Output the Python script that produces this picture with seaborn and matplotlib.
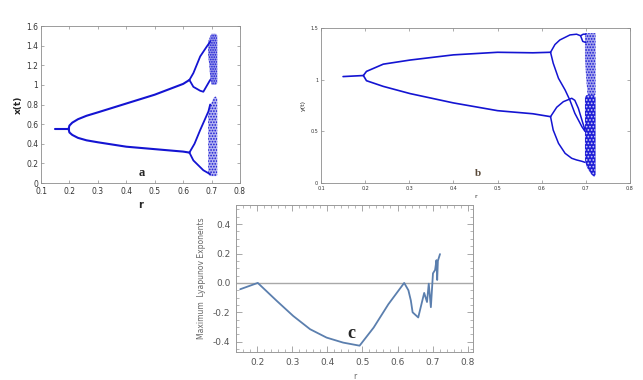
import matplotlib
matplotlib.use('Agg')
import matplotlib.pyplot as plt
import seaborn as sns
from matplotlib.ticker import MultipleLocator, FormatStrFormatter

sns.set_style('ticks')
plt.rcParams['font.family'] = ['DejaVu Sans']
plt.rcParams['hatch.linewidth'] = 0.8

BLUE = '#1414d2'

# ---- panel a : x(t) bifurcation ----
a_fix_r = [0.15, 0.197]
a_fix_y = [0.55, 0.55]
a_p2_r = [0.197, 0.20, 0.21, 0.23, 0.26, 0.30, 0.40, 0.50, 0.60, 0.622]
a_up_y = [0.55, 0.585, 0.615, 0.65, 0.685, 0.72, 0.81, 0.90, 1.01, 1.05]
a_lo_y = [0.55, 0.515, 0.49, 0.46, 0.435, 0.415, 0.37, 0.345, 0.32, 0.31]
a_uu_r = [0.622, 0.636, 0.66, 0.683, 0.695]
a_uu_y = [1.05, 1.12, 1.29, 1.39, 1.44]
a_ul_r = [0.622, 0.636, 0.66, 0.671, 0.689, 0.695]
a_ul_y = [1.05, 0.98, 0.94, 0.93, 1.02, 1.05]
a_lu_r = [0.622, 0.64, 0.66, 0.689, 0.695]
a_lu_y = [0.31, 0.40, 0.54, 0.73, 0.80]
a_ll_r = [0.622, 0.636, 0.671, 0.695]
a_ll_y = [0.31, 0.23, 0.13, 0.09]
a_chaos_r = [0.688, 0.692, 0.696, 0.700, 0.704, 0.708, 0.712, 0.716, 0.720]
a_chaos_up_lo = [1.30, 1.20, 1.05, 1.00, 1.00, 1.00, 1.00, 1.00, 1.02]
a_chaos_up_hi = [1.44, 1.47, 1.50, 1.52, 1.52, 1.52, 1.52, 1.52, 1.50]
a_chaos_lo_lo = [0.09, 0.08, 0.07, 0.07, 0.07, 0.07, 0.07, 0.07, 0.08]
a_chaos_lo_hi = [0.72, 0.76, 0.80, 0.82, 0.85, 0.87, 0.88, 0.88, 0.86]

# ---- panel b : y(t) bifurcation ----
b_fix_r = [0.15, 0.196]
b_fix_y = [1.03, 1.04]
b_p2_r = [0.196, 0.203, 0.241, 0.302, 0.40, 0.50, 0.58, 0.620]
b_up_y = [1.04, 1.08, 1.15, 1.19, 1.24, 1.265, 1.26, 1.265]
b_lo_y = [1.04, 0.99, 0.935, 0.865, 0.775, 0.70, 0.67, 0.642]
b_uu_r = [0.620, 0.630, 0.641, 0.664, 0.679, 0.688, 0.694, 0.700]
b_uu_y = [1.265, 1.34, 1.384, 1.433, 1.44, 1.425, 1.44, 1.44]
b_uu2_r = [0.688, 0.693, 0.700]
b_uu2_y = [1.425, 1.37, 1.36]
b_ul_r = [0.620, 0.626, 0.638, 0.653, 0.664, 0.675, 0.683, 0.691, 0.698]
b_ul_y = [1.265, 1.16, 1.013, 0.90, 0.80, 0.675, 0.61, 0.545, 0.50]
b_lu_r = [0.620, 0.634, 0.649, 0.668, 0.675, 0.683, 0.691, 0.698]
b_lu_y = [0.642, 0.733, 0.787, 0.82, 0.80, 0.723, 0.61, 0.513]
b_ll_r = [0.620, 0.626, 0.638, 0.653, 0.668, 0.679, 0.691, 0.698]
b_ll_y = [0.642, 0.513, 0.384, 0.287, 0.239, 0.223, 0.21, 0.20]
b_chaos_r = [0.698, 0.701, 0.704, 0.707, 0.710, 0.713, 0.716, 0.719, 0.722]
b_dense_lo = [0.22, 0.17, 0.14, 0.12, 0.10, 0.08, 0.07, 0.06, 0.08]
b_dense_hi = [0.83, 0.85, 0.85, 0.85, 0.85, 0.85, 0.85, 0.85, 0.83]
b_sparse_lo = [1.20, 1.00, 0.85, 0.85, 0.85, 0.85, 0.85, 0.85, 0.85]
b_sparse_hi = [1.45, 1.45, 1.45, 1.45, 1.45, 1.45, 1.45, 1.45, 1.45]

# ---- panel c : maximum Lyapunov exponent ----
c_r = [0.152, 0.202, 0.256, 0.303, 0.351, 0.398, 0.445, 0.492, 0.532, 0.574,
       0.619, 0.631, 0.638, 0.643, 0.659, 0.676, 0.684, 0.689, 0.695, 0.701,
       0.707, 0.711, 0.713, 0.715, 0.721]
c_le = [-0.043, 0.0, -0.122, -0.225, -0.315, -0.372, -0.406, -0.427, -0.304, -0.145,
        0.0, -0.05, -0.12, -0.20, -0.235, -0.068, -0.13, -0.005, -0.165, 0.065,
        0.088, 0.155, 0.02, 0.15, 0.196]

fig = plt.figure(figsize=(6.43, 3.80), dpi=100)
W, H = 643.0, 380.0


def box(l, t, r, b):
    return [l / W, 1 - b / H, (r - l) / W, (b - t) / H]


def branch(ax, x, y, lw):
    sns.lineplot(x=x, y=y, ax=ax, color=BLUE, lw=lw, sort=False, estimator=None)


def chaos(ax, r, lo, hi, face, dots, hatch):
    # speckled chaotic band between lower and upper envelope
    ax.fill_between(r, lo, hi, facecolor=face, edgecolor=dots, hatch=hatch,
                    linewidth=0)


def matlab_axes(ax, labsize):
    for s in ax.spines.values():
        s.set_color('#8c8c8c')
        s.set_linewidth(0.6)
    ax.tick_params(direction='in', top=True, right=True, length=2.5, width=0.5,
                   color='#8c8c8c', labelsize=labsize, labelcolor='#333333', pad=2)


# panel a
axa = fig.add_axes(box(41, 26, 240, 183))
branch(axa, a_fix_r, a_fix_y, 1.5)
branch(axa, a_p2_r, a_up_y, 1.5)
branch(axa, a_p2_r, a_lo_y, 1.5)
branch(axa, a_uu_r, a_uu_y, 1.3)
branch(axa, a_ul_r, a_ul_y, 1.3)
branch(axa, a_lu_r, a_lu_y, 1.3)
branch(axa, a_ll_r, a_ll_y, 1.3)
chaos(axa, a_chaos_r, a_chaos_up_lo, a_chaos_up_hi, '#9a9aea', BLUE, '.......')
chaos(axa, a_chaos_r, a_chaos_lo_lo, a_chaos_lo_hi, '#b4b4f0', BLUE, '......')
axa.set_xlim(0.1, 0.8)
axa.set_ylim(0, 1.6)
axa.set_xticks([0.1, 0.2, 0.3, 0.4, 0.5, 0.6, 0.7, 0.8])
axa.set_yticks([0, 0.2, 0.4, 0.6, 0.8, 1, 1.2, 1.4, 1.6])
axa.set_xticklabels(['0.1', '0.2', '0.3', '0.4', '0.5', '0.6', '0.7', '0.8'])
axa.set_yticklabels(['0', '0.2', '0.4', '0.6', '0.8', '1', '1.2', '1.4', '1.6'])
matlab_axes(axa, 5.5)
axa.tick_params(axis='x', pad=3)
axa.set_xlabel('r', fontsize=7, fontweight='bold', labelpad=3)
axa.set_ylabel('x(t)', fontsize=6.5, fontweight='bold', labelpad=2)
axa.text(0.455, 0.1, 'a', fontsize=9, fontweight='bold',
         family='Liberation Serif', ha='center', va='center')

# panel b
axb = fig.add_axes(box(321, 28, 630, 183))
branch(axb, b_fix_r, b_fix_y, 1.2)
branch(axb, b_p2_r, b_up_y, 1.2)
branch(axb, b_p2_r, b_lo_y, 1.2)
branch(axb, b_uu_r, b_uu_y, 1.1)
branch(axb, b_uu2_r, b_uu2_y, 1.1)
branch(axb, b_ul_r, b_ul_y, 1.1)
branch(axb, b_lu_r, b_lu_y, 1.1)
branch(axb, b_ll_r, b_ll_y, 1.1)
chaos(axb, b_chaos_r, b_sparse_lo, b_sparse_hi, '#a6a6ec', BLUE, '......')
chaos(axb, b_chaos_r, b_dense_lo, b_dense_hi, '#1e1ed6', '#d0d0f6', '.....')
axb.set_xlim(0.1, 0.8)
axb.set_ylim(0, 1.5)
axb.set_xticks([0.1, 0.2, 0.3, 0.4, 0.5, 0.6, 0.7, 0.8])
axb.set_yticks([0, 0.5, 1, 1.5])
axb.set_xticklabels(['0.1', '0.2', '0.3', '0.4', '0.5', '0.6', '0.7', '0.8'])
axb.set_yticklabels(['0', '0.5', '1', '1.5'])
matlab_axes(axb, 3.5)
axb.set_xlabel('r', fontsize=4.5, labelpad=2)
axb.set_ylabel('y(t)', fontsize=4.5, labelpad=3)
axb.text(0.455, 0.095, 'b', fontsize=8, fontweight='bold',
         family='Liberation Serif', ha='center', va='center', color='#5a4a3a')

# panel c
axc = fig.add_axes(box(236, 205, 473, 352))
axc.axhline(0, color='#a8a8a8', lw=1.0)
sns.lineplot(x=c_r, y=c_le, ax=axc, color='#5b7fae', lw=1.3, sort=False,
             estimator=None)
axc.set_xlim(0.14, 0.815)
axc.set_ylim(-0.47, 0.53)
axc.xaxis.set_major_locator(MultipleLocator(0.1))
axc.xaxis.set_minor_locator(MultipleLocator(0.02))
axc.yaxis.set_major_locator(MultipleLocator(0.2))
axc.yaxis.set_minor_locator(MultipleLocator(0.05))
axc.xaxis.set_major_formatter(FormatStrFormatter('%.1f'))
axc.yaxis.set_major_formatter(FormatStrFormatter('%.1f'))
for s in axc.spines.values():
    s.set_color('#9a9a9a')
    s.set_linewidth(0.7)
axc.tick_params(which='major', direction='in', top=True, right=True, length=4,
                width=0.6, color='#9a9a9a', labelsize=6.5, labelcolor='#555555',
                pad=4)
axc.tick_params(which='minor', direction='in', top=True, right=True, length=2,
                width=0.5, color='#9a9a9a')
axc.set_xlabel('r', fontsize=5.5, color='#666666', labelpad=4)
axc.set_ylabel('Maximum  Lyapunov Exponents', fontsize=5.5, color='#666666',
               labelpad=5)
axc.text(0.47, -0.345, 'c', fontsize=13, fontweight='bold',
         family='Liberation Serif', ha='center', va='center')

fig.savefig('out.png', dpi=100, facecolor='white')
